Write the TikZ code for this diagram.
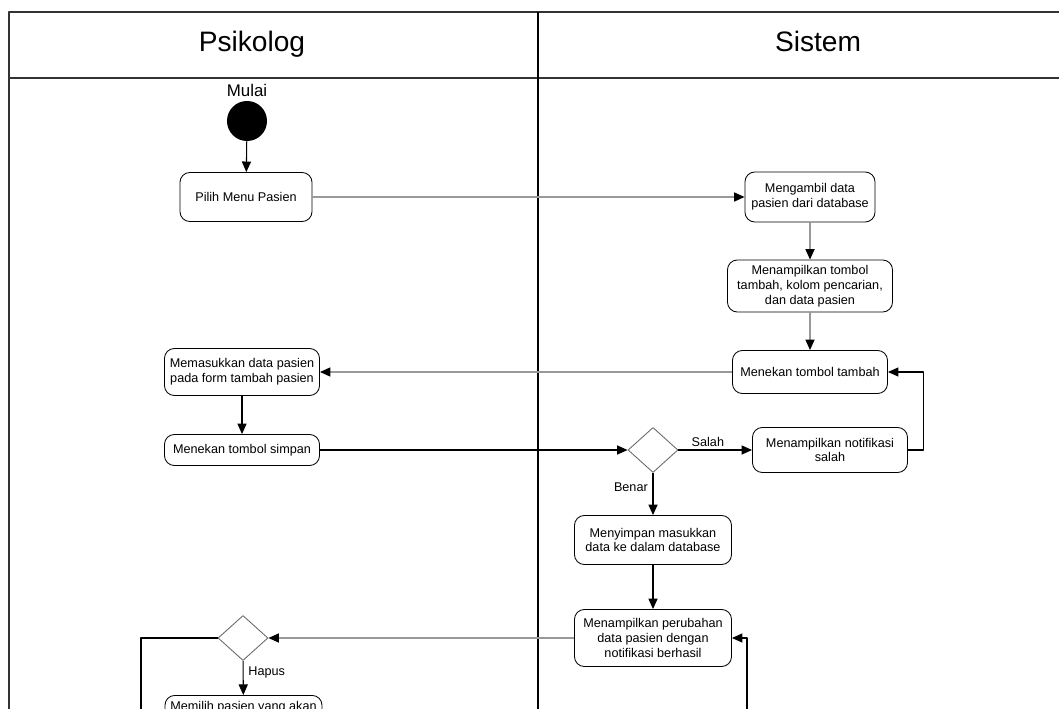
\documentclass[tikz,border=0pt]{standalone}
\usepackage{fontspec}
\setmainfont{Liberation Sans}
\usetikzlibrary{shapes.geometric,arrows.meta}
\tikzset{
  aksi/.style={draw, rounded corners=7pt, fill=white, align=center, inner sep=2pt, line width=0.6pt, font=\fontsize{9}{10.5}\selectfont},
  keputusan/.style={diamond, draw=black!60, fill=white, inner sep=0pt, minimum width=1.25cm, minimum height=1.125cm, line width=0.6pt},
  panah/.style={draw=black, line width=0.75pt, -{Triangle[length=7.5pt,width=6.5pt]}},
  panahabu/.style={draw=gray!80, line width=0.9pt, -{Triangle[length=7.5pt,width=6.5pt,color=black]}},
  ket/.style={font=\fontsize{9}{10.5}\selectfont}
}
\begin{document}
\begin{tikzpicture}[x=0.025cm, y=-0.025cm, line join=round]
	\clip (0,0) rectangle (1059,709);
	\fill[white] (0,0) rectangle (1059,709);
	% swimlane
	\draw[line width=1.4pt, black!80] (1070,12) -- (9,12) -- (9,720);
	\draw[line width=1.4pt, black!80] (9,78) -- (1070,78);
	\draw[line width=0.8pt] (538,12) -- (538,720);
	\node (psikolog) [anchor=base, font=\fontsize{20}{24}\selectfont] at (252,52) {Psikolog};
	\node (sistem) [anchor=base, font=\fontsize{20}{24}\selectfont] at (818,52) {Sistem};
	% aktivitas
	\node (tmulai) [anchor=base, font=\fontsize{12}{14}\selectfont] at (247,97) {Mulai};
	\node (mulai) [circle, fill=black, minimum size=1cm, inner sep=0pt] at (247,121) {};
	\node (pilih) [aksi, minimum width=3.3cm, minimum height=1.225cm] at (246,197) {Pilih Menu Pasien};
	\node (ambil) [aksi, minimum width=3.25cm, minimum height=1.25cm] at (810,197) {Mengambil data\\pasien dari database};
	\node (tampil) [aksi, minimum width=4.125cm, minimum height=1.3cm] at (810,286) {Menampilkan tombol\\tambah, kolom pencarian,\\dan data pasien};
	\node (tekan) [aksi, minimum width=3.875cm, minimum height=1.075cm] at (810,372) {Menekan tombol tambah};
	\node (masuk) [aksi, minimum width=3.875cm, minimum height=1.175cm] at (242,372) {Memasukkan data pasien\\pada form tambah pasien};
	\node (simpan) [aksi, minimum width=3.875cm, minimum height=0.775cm] at (242,450) {Menekan tombol simpan};
	\node (cek) [keputusan] at (653,450) {};
	\node (salah) [aksi, minimum width=3.875cm, minimum height=1.125cm] at (830,450) {Menampilkan notifikasi\\salah};
	\node (sim) [aksi, minimum width=3.925cm, minimum height=1.225cm] at (653,540) {Menyimpan masukkan\\data ke dalam database};
	\node (ubah) [aksi, minimum width=3.925cm, minimum height=1.425cm] at (653,638) {Menampilkan perubahan\\data pasien dengan\\notifikasi berhasil};
	\node (cek2) [keputusan] at (243,638) {};
	\node (hapus) [aksi, anchor=north, minimum width=3.925cm, inner ysep=4pt, text depth=40pt] at (243.5,695) {Memilih pasien yang akan};
	\coordinate (ujungkiri) at (141,720);
	\coordinate (ujungkanan) at (747,720);
	% alur
	\draw[panah] (mulai) -- (pilih);
	\draw[panahabu] (pilih) -- (ambil);
	\draw[panahabu] (ambil) -- (tampil);
	\draw[panahabu] (tampil) -- (tekan);
	\draw[panahabu] (tekan) -- (masuk);
	\draw[panah] (masuk) -- (simpan);
	\draw[panah] (simpan) -- (cek);
	\draw[panah] (cek) -- node[ket, above, pos=0.4, inner sep=2pt] (tsalah) {Salah} (salah);
	\draw[panah] (salah.east) -- ++(16,0) |- (tekan.east);
	\draw[panah] (cek) -- node[ket, left, pos=0.35] (tbenar) {Benar} (sim);
	\draw[panah] (sim) -- (ubah);
	\draw[panahabu] (ubah) -- (cek2);
	\draw[line width=0.75pt] (cek2.west) -| (ujungkiri);
	\draw[panah] (cek2) -- node[ket, right, pos=0.34] (thapus) {Hapus} (hapus);
	\draw[panah] (ujungkanan) |- (ubah.east);
\end{tikzpicture}
\end{document}
